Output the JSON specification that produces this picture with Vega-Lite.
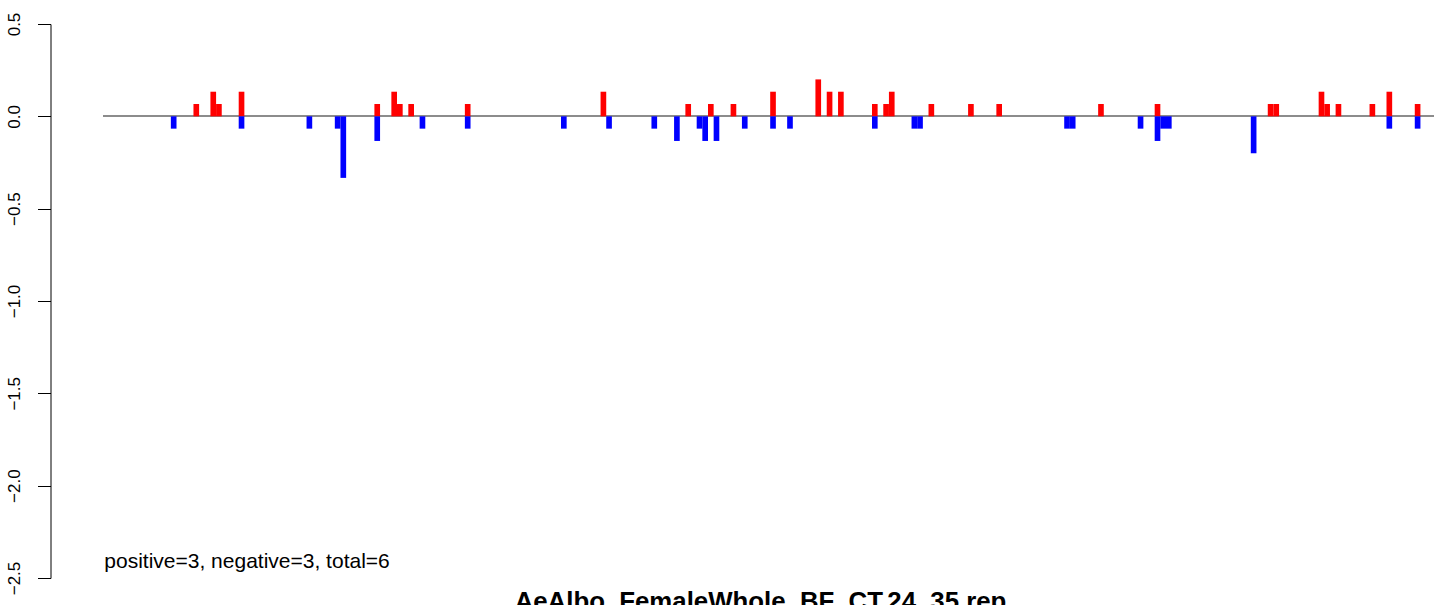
{
  "$schema": "https://vega.github.io/schema/vega-lite/v6.json",
  "autosize": {"type": "none"},
  "padding": {"left": 103, "top": 24, "right": 10, "bottom": 27},
  "width": 1331,
  "height": 554,
  "background": "white",
  "config": {"view": {"stroke": null}, "font": "Liberation Sans"},
  "title": {
    "text": "AeAlbo_FemaleWhole_BF_CT.24_35.rep",
    "orient": "bottom",
    "anchor": "middle",
    "baseline": "top",
    "fontSize": 25.8,
    "fontWeight": "bold",
    "font": "Liberation Sans",
    "color": "black",
    "offset": -5,
    "dx": -8
  },
  "data": {
    "values": [
      {"slot": 12, "value": -0.0667, "direction": "negative"},
      {"slot": 16, "value": 0.0667, "direction": "positive"},
      {"slot": 19, "value": 0.1333, "direction": "positive"},
      {"slot": 20, "value": 0.0667, "direction": "positive"},
      {"slot": 24, "value": 0.1333, "direction": "positive"},
      {"slot": 24, "value": -0.0667, "direction": "negative"},
      {"slot": 36, "value": -0.0667, "direction": "negative"},
      {"slot": 41, "value": -0.0667, "direction": "negative"},
      {"slot": 42, "value": -0.3333, "direction": "negative"},
      {"slot": 48, "value": 0.0667, "direction": "positive"},
      {"slot": 48, "value": -0.1333, "direction": "negative"},
      {"slot": 51, "value": 0.1333, "direction": "positive"},
      {"slot": 52, "value": 0.0667, "direction": "positive"},
      {"slot": 54, "value": 0.0667, "direction": "positive"},
      {"slot": 56, "value": -0.0667, "direction": "negative"},
      {"slot": 64, "value": 0.0667, "direction": "positive"},
      {"slot": 64, "value": -0.0667, "direction": "negative"},
      {"slot": 81, "value": -0.0667, "direction": "negative"},
      {"slot": 88, "value": 0.1333, "direction": "positive"},
      {"slot": 89, "value": -0.0667, "direction": "negative"},
      {"slot": 97, "value": -0.0667, "direction": "negative"},
      {"slot": 101, "value": -0.1333, "direction": "negative"},
      {"slot": 103, "value": 0.0667, "direction": "positive"},
      {"slot": 105, "value": -0.0667, "direction": "negative"},
      {"slot": 106, "value": -0.1333, "direction": "negative"},
      {"slot": 107, "value": 0.0667, "direction": "positive"},
      {"slot": 108, "value": -0.1333, "direction": "negative"},
      {"slot": 111, "value": 0.0667, "direction": "positive"},
      {"slot": 113, "value": -0.0667, "direction": "negative"},
      {"slot": 118, "value": 0.1333, "direction": "positive"},
      {"slot": 118, "value": -0.0667, "direction": "negative"},
      {"slot": 121, "value": -0.0667, "direction": "negative"},
      {"slot": 126, "value": 0.2, "direction": "positive"},
      {"slot": 128, "value": 0.1333, "direction": "positive"},
      {"slot": 130, "value": 0.1333, "direction": "positive"},
      {"slot": 136, "value": 0.0667, "direction": "positive"},
      {"slot": 136, "value": -0.0667, "direction": "negative"},
      {"slot": 138, "value": 0.0667, "direction": "positive"},
      {"slot": 139, "value": 0.1333, "direction": "positive"},
      {"slot": 143, "value": -0.0667, "direction": "negative"},
      {"slot": 144, "value": -0.0667, "direction": "negative"},
      {"slot": 146, "value": 0.0667, "direction": "positive"},
      {"slot": 153, "value": 0.0667, "direction": "positive"},
      {"slot": 158, "value": 0.0667, "direction": "positive"},
      {"slot": 170, "value": -0.0667, "direction": "negative"},
      {"slot": 171, "value": -0.0667, "direction": "negative"},
      {"slot": 176, "value": 0.0667, "direction": "positive"},
      {"slot": 183, "value": -0.0667, "direction": "negative"},
      {"slot": 186, "value": 0.0667, "direction": "positive"},
      {"slot": 186, "value": -0.1333, "direction": "negative"},
      {"slot": 187, "value": -0.0667, "direction": "negative"},
      {"slot": 188, "value": -0.0667, "direction": "negative"},
      {"slot": 203, "value": -0.2, "direction": "negative"},
      {"slot": 206, "value": 0.0667, "direction": "positive"},
      {"slot": 207, "value": 0.0667, "direction": "positive"},
      {"slot": 215, "value": 0.1333, "direction": "positive"},
      {"slot": 216, "value": 0.0667, "direction": "positive"},
      {"slot": 218, "value": 0.0667, "direction": "positive"},
      {"slot": 224, "value": 0.0667, "direction": "positive"},
      {"slot": 227, "value": 0.1333, "direction": "positive"},
      {"slot": 227, "value": -0.0667, "direction": "negative"},
      {"slot": 232, "value": 0.0667, "direction": "positive"},
      {"slot": 232, "value": -0.0667, "direction": "negative"}
    ]
  },
  "layer": [
    {
      "mark": {"type": "rule", "color": "#8c8c8c", "strokeWidth": 1.5},
      "encoding": {
        "y": {"datum": 0, "type": "quantitative"}
      }
    },
    {
      "mark": {"type": "bar", "width": 5.66, "stroke": null},
      "encoding": {
        "x": {
          "field": "slot",
          "type": "quantitative",
          "scale": {"domain": [-0.5, 234.9], "nice": false, "zero": false, "padding": 0},
          "axis": null
        },
        "y": {
          "field": "value",
          "type": "quantitative",
          "scale": {"domain": [-2.5, 0.5], "nice": false},
          "axis": {
            "title": null,
            "values": [-2.5, -2, -1.5, -1, -0.5, 0, 0.5],
            "format": ".1f",
            "offset": 52.5,
            "grid": false,
            "domainColor": "black",
            "domainWidth": 1,
            "tickColor": "black",
            "tickWidth": 1,
            "tickSize": 13,
            "labelAngle": 270,
            "labelAlign": "center",
            "labelBaseline": "alphabetic",
            "labelPadding": 18,
            "labelFontSize": 17,
            "labelColor": "black",
            "labelFont": "Liberation Sans",
            "labelOverlap": false,
            "labelFlush": false
          }
        },
        "color": {
          "field": "direction",
          "type": "nominal",
          "scale": {"domain": ["positive", "negative"], "range": ["#FF0000", "#0000FF"]},
          "legend": null
        }
      }
    },
    {
      "data": {"values": [{"note": "positive=3, negative=3, total=6"}]},
      "mark": {"type": "text", "align": "left", "baseline": "alphabetic", "fontSize": 21, "font": "Liberation Sans", "color": "black"},
      "encoding": {
        "text": {"field": "note", "type": "nominal"},
        "x": {"datum": -0.27, "type": "quantitative"},
        "y": {"datum": -2.447, "type": "quantitative"}
      }
    }
  ]
}
